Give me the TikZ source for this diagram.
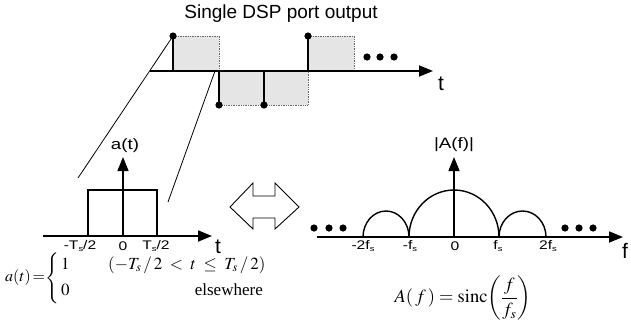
\documentclass[tikz,border=0pt]{standalone}
\usepackage{amsmath}
\usepackage{mathptmx}
\usepackage[no-math]{fontspec}
\setmainfont{Liberation Serif}
\newfontfamily\titlefont{Liberation Sans}
\newfontfamily\labfont[FakeStretch=1.25]{Liberation Sans}
\usetikzlibrary{arrows.meta}
\newcommand\mysub[1]{\raisebox{-0.35ex}{\fontsize{7.5}{8}\selectfont #1}}
\tikzset{
  axis/.style={line width=1.8pt,-{Triangle[length=14pt,width=11pt]}},
  stem/.style={line width=1.8pt},
  pulse/.style={fill=black!10,draw=black!60,densely dotted,line width=0.7pt},
  blob/.style={fill=black},
  thin line/.style={line width=0.8pt},
  curve/.style={line width=1.4pt},
  ticklab/.style={font=\labfont\fontsize{12.5}{14}\selectfont,inner sep=0pt},
  axlab/.style={font=\labfont\fontsize{15}{17}\selectfont,inner sep=0pt},
  varlab/.style={font=\titlefont\fontsize{21}{23}\selectfont,inner sep=0pt},
  formula/.style={font=\fontsize{17}{20}\selectfont,inner sep=0pt}
}
\begin{document}
\begin{tikzpicture}[x=1pt,y=-1pt]
\useasboundingbox (0,0) rectangle (631,327);
% ---------- top waveform ----------
\node[font=\titlefont\fontsize{19}{22}\selectfont,inner sep=0pt] (title) at (281,14) {Single DSP port output};
\draw[pulse] (173,36) rectangle (219,71);
\draw[pulse] (219,71) rectangle (264,105);
\draw[pulse] (264,71) rectangle (308,105);
\draw[pulse] (308,36) rectangle (354,71);
\coordinate (ts) at (150,71);
\coordinate (te) at (433,71);
\draw[axis] (ts) -- (te);
\node[varlab] (tlab1) at (441,84) {t};
\coordinate (s1) at (173,36);
\coordinate (s2) at (219,105);
\coordinate (s3) at (264,105);
\coordinate (s4) at (308,36);
\draw[stem] (173,71) -- (s1);
\draw[stem] (219,71) -- (s2);
\draw[stem] (264,71) -- (s3);
\draw[stem] (308,71) -- (s4);
\foreach \p in {s1,s2,s3,s4} \fill[blob] (\p) circle (3.6);
\foreach \x in {367,380,394} \fill[blob] (\x,57) circle (3.6);
% zoom lines
\coordinate (z1) at (78,178);
\coordinate (z2a) at (215,71);
\coordinate (z2) at (168,202);
\draw[thin line] (s1) -- (z1);
\draw[thin line] (z2a) -- (z2);
% ---------- a(t) ----------
\coordinate (ax0) at (43,236);
\coordinate (ax1) at (212,236);
\coordinate (ay0) at (123,236);
\coordinate (ay1) at (123,157);
\draw[curve] (88,236) -- (88,190) -- (157,190) -- (157,236);
\draw[axis] (ax0) -- (ax1);
\draw[axis,line width=1.4pt] (ay0) -- (ay1);
\node[axlab] (alab) at (125,146) {a(t)};
\node[varlab] (tlab2) at (218,247) {t};
\node[ticklab] (m1) at (80,246) {-T\mysub{s}/2};
\node[ticklab] (m0) at (123,246) {0};
\node[ticklab] (p1) at (156,246) {T\mysub{s}/2};
% ---------- double arrow ----------
\draw[line width=0.9pt] (230,207) -- (253,183) -- (253,196) -- (275,196) -- (275,183) -- (299,207)
  -- (275,229) -- (275,218) -- (253,218) -- (253,229) -- cycle;
% ---------- |A(f)| ----------
\coordinate (fx0) at (317,237);
\coordinate (fx1) at (623,237);
\coordinate (fy0) at (454,237);
\coordinate (fy1) at (454,157);
\draw[curve] (409,237) arc[start angle=180,end angle=0,x radius=45,y radius=-47];
\draw[curve] (363,237) arc[start angle=180,end angle=0,x radius=23,y radius=-26];
\draw[curve] (499,237) arc[start angle=180,end angle=0,x radius=23.5,y radius=-26];
\draw[axis] (fx0) -- (fx1);
\draw[axis,line width=1.4pt] (fy0) -- (fy1);
\node[axlab] (Alab) at (454,145) {|A(f)|};
\node[varlab] (flab) at (625,251) {f};
\foreach \x in {314,329,343,565,579,593} \fill[blob] (\x,228) circle (3.6);
\node[ticklab] (f-2) at (363,246) {-2f\mysub{s}};
\node[ticklab] (f-1) at (410,246) {-f\mysub{s}};
\node[ticklab] (f0) at (455,246) {0};
\node[ticklab] (f1) at (498,246) {f\mysub{s}};
\node[ticklab] (f2) at (548,246) {2f\mysub{s}};
% ---------- formulas ----------
\node[formula,font=\fontsize{16}{18}\selectfont,anchor=west] (eqlhs) at (5,277) {$a(t)\mkern-2mu=$};
\node[formula] (eqbrace) at (53,278) {$\left\{\rule[-19pt]{0pt}{40pt}\right.$};
\node[formula,anchor=base west] (eqone) at (61,269) {$1$};
\node[formula,anchor=base west] (eqzero) at (61,295) {$0$};
\node[formula,anchor=base west] (eqcond) at (108,269) {$\left(-T_s\,/\,2\;<\;t\;\le\;T_s\,/\,2\right)$};
\node[formula,anchor=base east] (eqelse) at (263,295) {elsewhere};
\node[formula,font=\fontsize{18.5}{21}\selectfont] (eqA) at (463,298) {$A(\,f\,)=\mathrm{sinc}\!\left(\dfrac{f}{f_s}\right)$};
\end{tikzpicture}
\end{document}
